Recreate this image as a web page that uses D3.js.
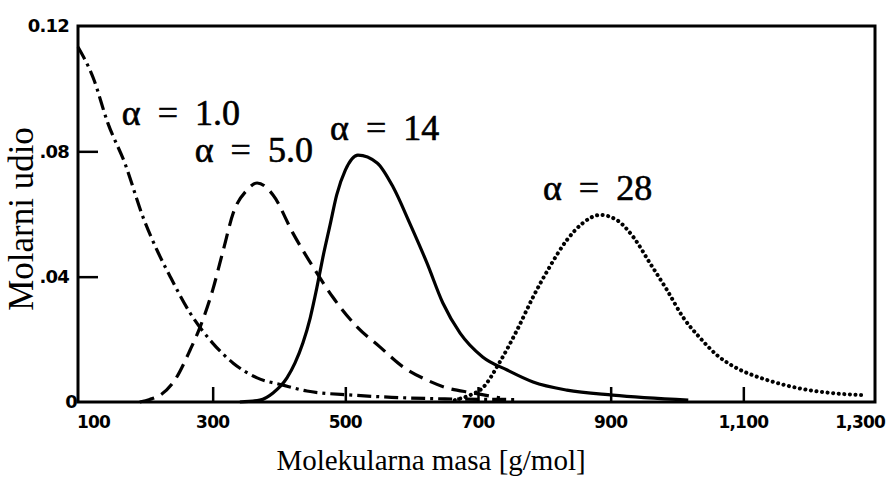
<!DOCTYPE html>
<html>
<head>
<meta charset="utf-8">
<script src="https://cdn.jsdelivr.net/npm/d3@7"></script>
<style>
  html, body { margin: 0; padding: 0; background: #fff; }
  svg { display: block; }
</style>
</head>
<body>
<svg id="chart" width="895" height="487"></svg>
<script>
// ---- data ----
const xTicks = [100, 300, 500, 700, 900, 1100, 1300];
const xTickLabels = ["100", "300", "500", "700", "900", "1,100", "1,300"];
const yTicks = [0, 0.04, 0.08, 0.12];
const yTickLabels = ["0", ".04", ".08", "0.12"];

const a1x = [97, 120, 142, 168, 195, 216, 236, 266, 300, 331, 367, 406, 442, 510, 570, 650, 755];
const a1y = [0.1133, 0.1034, 0.089, 0.076, 0.059, 0.0485, 0.040, 0.0284, 0.0188, 0.0124, 0.0077, 0.0054, 0.0035, 0.0022, 0.0015, 0.0010, 0.0008];

const a5x = [190, 205, 221, 243, 266, 281, 300, 316, 331, 352, 367, 391, 421, 457, 481, 518, 552, 587, 623, 653, 692, 733];
const a5y = [0.0, 0.0008, 0.0022, 0.007, 0.0166, 0.0239, 0.0357, 0.0485, 0.0603, 0.0677, 0.0699, 0.0661, 0.0539, 0.0412, 0.0335, 0.0239, 0.0176, 0.0112, 0.007, 0.0045, 0.0029, 0.0013];

const a14x = [341, 371, 391, 412, 424, 436, 447, 457, 466, 477, 487, 500, 519, 548, 572, 597, 623, 647, 673, 707, 744, 783, 834, 903, 1017];
const a14y = [0.0, 0.0006, 0.0029, 0.0077, 0.0124, 0.0188, 0.0268, 0.0364, 0.046, 0.0565, 0.0661, 0.074, 0.0788, 0.0763, 0.0686, 0.0571, 0.0444, 0.0316, 0.022, 0.0144, 0.0102, 0.0064, 0.0038, 0.0022, 0.0006];

const a28x = [665, 688, 707, 733, 759, 783, 808, 834, 858, 884, 909, 934, 959, 985, 1009, 1035, 1060, 1084, 1110, 1136, 1181, 1231, 1280];
const a28y = [0.0006, 0.0022, 0.0045, 0.0128, 0.023, 0.0335, 0.0431, 0.0517, 0.0571, 0.0597, 0.0581, 0.0527, 0.0444, 0.0357, 0.0271, 0.0204, 0.015, 0.0115, 0.0089, 0.007, 0.0045, 0.0029, 0.0022];

const seriesNames = ["α = 1.0", "α = 5.0", "α = 14", "α = 28"];
const labelX = [163, 273, 477, 798];
const labelY = [0.0884, 0.0766, 0.0836, 0.0645];

// ---- layout ----
const svg = d3.select("#chart");
const frame = { left: 78, right: 875, top: 26, bottom: 402 };
const x = d3.scaleLinear().domain([100, 1300]).range([80, 876]);
const y = d3.scaleLinear().domain([0, 0.12]).range([402, 26]);

// frame
svg.append("rect")
  .attr("x", frame.left).attr("y", frame.top)
  .attr("width", frame.right - frame.left).attr("height", frame.bottom - frame.top)
  .attr("fill", "none").attr("stroke", "#000").attr("stroke-width", 3);

// x ticks (inner, upward)
const xAxis = d3.axisTop(x).tickValues(xTicks.slice(1, -1)).tickSize(15).tickFormat("");
const gx = svg.append("g").attr("transform", `translate(0,${frame.bottom})`).call(xAxis);
gx.select(".domain").remove();
gx.selectAll("line").attr("stroke", "#000").attr("stroke-width", 2.5);

// y ticks (inner, rightward)
const yAxis = d3.axisRight(y).tickValues([0.04, 0.08]).tickSize(20).tickFormat("");
const gy = svg.append("g").attr("transform", `translate(${frame.left},0)`).call(yAxis);
gy.select(".domain").remove();
gy.selectAll("line").attr("stroke", "#000").attr("stroke-width", 2.5);

// tick labels
const tickFont = "'DejaVu Sans', sans-serif";
svg.append("g").selectAll("text").data(xTicks).join("text")
  .attr("x", (d, i) => i === 0 ? x(d) - 3 : (i === xTicks.length - 1 ? x(d) + 9 : x(d)))
  .attr("y", 428)
  .attr("text-anchor", (d, i) => i === 0 ? "start" : (i === xTicks.length - 1 ? "end" : "middle"))
  .attr("font-family", tickFont).attr("font-weight", "bold").attr("font-size", 17)
  .attr("letter-spacing", -0.8)
  .text((d, i) => xTickLabels[i]);

svg.append("g").selectAll("text").data(yTicks).join("text")
  .attr("x", (d, i) => i === 0 ? 77 : 69)
  .attr("y", d => y(d))
  .attr("dy", "0.35em")
  .attr("text-anchor", "end")
  .attr("font-family", tickFont).attr("font-weight", "bold").attr("font-size", 18)
  .attr("letter-spacing", -0.8)
  .text((d, i) => yTickLabels[i]);

// axis titles
svg.append("text")
  .attr("x", 431).attr("y", 470)
  .attr("text-anchor", "middle")
  .attr("font-family", "'Liberation Serif', 'Times New Roman', serif")
  .attr("font-size", 29)
  .text("Molekularna masa [g/mol]");

svg.append("text")
  .attr("transform", "translate(33,219) rotate(-90)")
  .attr("text-anchor", "middle")
  .attr("font-family", "'Liberation Serif', 'Times New Roman', serif")
  .attr("font-size", 35)
  .text("Molarni udio");

// curves
const line = d3.line().x(d => x(d[0])).y(d => y(d[1])).curve(d3.curveMonotoneX);
const series = [
  { xs: a1x, ys: a1y, dash: "14,5,3,5", cap: "butt" },
  { xs: a5x, ys: a5y, dash: "15,8", cap: "butt" },
  { xs: a14x, ys: a14y, dash: null, cap: "butt" },
  { xs: a28x, ys: a28y, dash: "0.1,5.5", cap: "round" }
];
series.forEach(s => {
  const pts = s.xs.map((v, i) => [v, s.ys[i]]);
  const p = svg.append("path").datum(pts)
    .attr("d", line)
    .attr("fill", "none").attr("stroke", "#000")
    .attr("stroke-width", s.cap === "round" ? 4 : 3.2)
    .attr("stroke-linecap", s.cap);
  if (s.dash) p.attr("stroke-dasharray", s.dash);
});

// series labels
svg.append("g").selectAll("text").data(seriesNames).join("text")
  .attr("x", (d, i) => x(labelX[i]))
  .attr("y", (d, i) => y(labelY[i]))
  .attr("font-family", "'Liberation Serif', 'Times New Roman', serif")
  .attr("font-size", 36)
  .attr("stroke", "#000").attr("stroke-width", 0.6)
  .style("word-spacing", "8px")
  .style("white-space", "pre")
  .text(d => d);
</script>
</body>
</html>
